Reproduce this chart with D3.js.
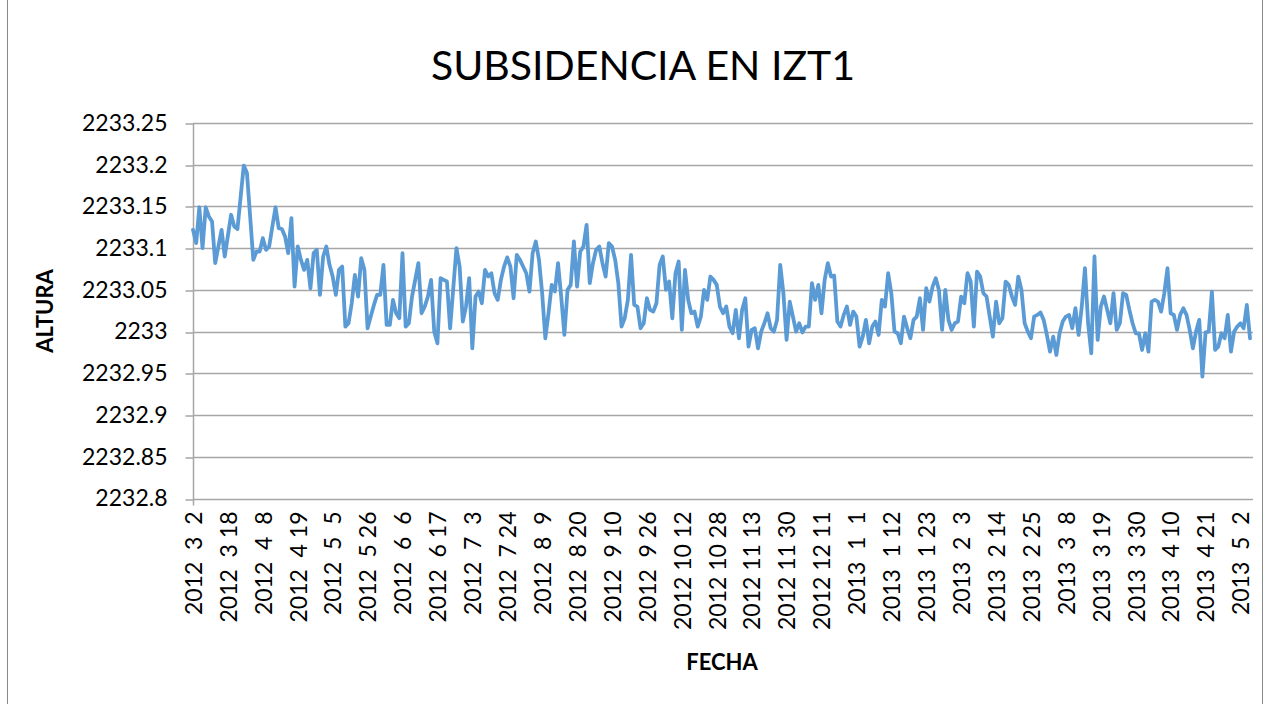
<!DOCTYPE html>
<html>
<head>
<meta charset="utf-8">
<script src="https://cdn.jsdelivr.net/npm/d3@7"></script>
<style>
  html, body { margin: 0; padding: 0; background: #fff; }
  svg text { font-family: Lato, "Open Sans", sans-serif; fill: #000; }
</style>
</head>
<body>
<svg id="chart" width="1269" height="704"></svg>
<script>
// Station IZT1 height series (m), one value per observation day
const alturas = [
  2233.122, 2233.106, 2233.149, 2233.100, 2233.149, 2233.138, 2233.132, 2233.082, 2233.102, 2233.122,
  2233.090, 2233.115, 2233.140, 2233.126, 2233.123, 2233.161, 2233.199, 2233.190, 2233.138, 2233.086,
  2233.096, 2233.096, 2233.112, 2233.098, 2233.102, 2233.126, 2233.149, 2233.124, 2233.123, 2233.114,
  2233.094, 2233.136, 2233.054, 2233.102, 2233.086, 2233.074, 2233.086, 2233.052, 2233.094, 2233.098,
  2233.044, 2233.090, 2233.102, 2233.080, 2233.066, 2233.044, 2233.074, 2233.078, 2233.006, 2233.010,
  2233.034, 2233.068, 2233.042, 2233.088, 2233.074, 2233.004, 2233.018, 2233.032, 2233.044, 2233.044,
  2233.080, 2233.008, 2233.008, 2233.038, 2233.022, 2233.016, 2233.094, 2233.006, 2233.010, 2233.042,
  2233.062, 2233.082, 2233.022, 2233.030, 2233.042, 2233.062, 2233.000, 2232.986, 2233.064, 2233.062,
  2233.060, 2233.004, 2233.052, 2233.100, 2233.078, 2233.012, 2233.030, 2233.064, 2232.980, 2233.042,
  2233.048, 2233.034, 2233.074, 2233.066, 2233.070, 2233.046, 2233.038, 2233.062, 2233.078, 2233.089,
  2233.078, 2233.040, 2233.092, 2233.086, 2233.078, 2233.070, 2233.048, 2233.094, 2233.108, 2233.086,
  2233.046, 2232.992, 2233.022, 2233.056, 2233.048, 2233.082, 2233.042, 2232.996, 2233.050, 2233.056,
  2233.108, 2233.054, 2233.096, 2233.102, 2233.128, 2233.058, 2233.082, 2233.098, 2233.102, 2233.082,
  2233.066, 2233.106, 2233.102, 2233.086, 2233.058, 2233.006, 2233.016, 2233.038, 2233.092, 2233.032,
  2233.030, 2233.004, 2233.010, 2233.040, 2233.026, 2233.024, 2233.034, 2233.080, 2233.090, 2233.050,
  2233.060, 2233.016, 2233.070, 2233.084, 2233.002, 2233.074, 2233.038, 2233.022, 2233.024, 2233.006,
  2233.018, 2233.050, 2233.038, 2233.066, 2233.062, 2233.056, 2233.030, 2233.022, 2233.030, 2233.006,
  2232.998, 2233.026, 2232.992, 2233.026, 2233.040, 2232.982, 2233.002, 2233.004, 2232.980, 2233.000,
  2233.010, 2233.022, 2233.004, 2233.000, 2233.014, 2233.080, 2233.046, 2232.990, 2233.036, 2233.018,
  2233.000, 2233.010, 2232.999, 2233.006, 2233.006, 2233.058, 2233.038, 2233.056, 2233.022, 2233.062,
  2233.082, 2233.066, 2233.067, 2233.012, 2233.006, 2233.020, 2233.030, 2233.008, 2233.024, 2233.018,
  2232.982, 2232.994, 2233.014, 2232.986, 2233.006, 2233.012, 2232.996, 2233.038, 2233.030, 2233.070,
  2233.046, 2233.000, 2232.998, 2232.986, 2233.018, 2233.004, 2232.992, 2233.014, 2233.018, 2233.040,
  2233.002, 2233.052, 2233.036, 2233.054, 2233.064, 2233.050, 2233.002, 2233.050, 2233.014, 2233.002,
  2233.010, 2233.012, 2233.042, 2233.034, 2233.070, 2233.060, 2233.006, 2233.072, 2233.066, 2233.046,
  2233.042, 2233.018, 2232.994, 2233.036, 2233.010, 2233.016, 2233.060, 2233.056, 2233.042, 2233.032,
  2233.066, 2233.050, 2233.010, 2233.000, 2232.992, 2233.018, 2233.020, 2233.023, 2233.014, 2232.996,
  2232.976, 2232.994, 2232.972, 2232.998, 2233.012, 2233.018, 2233.020, 2233.004, 2233.028, 2232.996,
  2233.030, 2233.076, 2233.010, 2232.974, 2233.090, 2232.990, 2233.030, 2233.042, 2233.026, 2233.010,
  2233.046, 2233.002, 2233.010, 2233.046, 2233.044, 2233.026, 2233.010, 2232.998, 2232.998, 2232.978,
  2232.998, 2232.976, 2233.036, 2233.038, 2233.036, 2233.024, 2233.046, 2233.076, 2233.022, 2233.020,
  2233.002, 2233.020, 2233.028, 2233.020, 2233.002, 2232.980, 2233.000, 2233.014, 2232.946, 2232.999,
  2233.000, 2233.048, 2232.978, 2232.982, 2232.998, 2232.992, 2233.020, 2232.976, 2233.000, 2233.006,
  2233.010, 2233.004, 2233.032, 2232.992
];

// Category labels shown on the date axis (every 11th observation)
const fechas = [
  "2012  3  2", "2012  3 18", "2012  4  8", "2012  4 19", "2012  5  5", "2012  5 26",
  "2012  6  6", "2012  6 17", "2012  7  3", "2012  7 24", "2012  8  9", "2012  8 20",
  "2012  9 10", "2012  9 26", "2012 10 12", "2012 10 28", "2012 11 13", "2012 11 30",
  "2012 12 11", "2013  1  1", "2013  1 12", "2013  1 23", "2013  2  3", "2013  2 14",
  "2013  2 25", "2013  3  8", "2013  3 19", "2013  3 30", "2013  4 10", "2013  4 21",
  "2013  5  2"
];
const pasoEtiqueta = 11;

// Value axis ticks
const yTicks = [2232.8, 2232.85, 2232.9, 2232.95, 2233, 2233.05, 2233.1, 2233.15, 2233.2, 2233.25];

const titulo = "SUBSIDENCIA EN IZT1";
const tituloY = "ALTURA";
const tituloX = "FECHA";

const W = 1269, H = 704;
const plot = { left: 193, right: 1253, top: 123, bottom: 498.5 };

const svg = d3.select("#chart");

// chart area frame
svg.append("rect")
  .attr("x", 7.5).attr("y", -2).attr("width", 1255).attr("height", H + 4)
  .attr("fill", "#fff").attr("stroke", "#898989").attr("stroke-width", 1);

const x = d3.scalePoint()
  .domain(d3.range(alturas.length))
  .range([plot.left, 1250]);

const y = d3.scaleLinear()
  .domain([yTicks[0], yTicks[yTicks.length - 1]])
  .range([plot.bottom, plot.top]);

const fmt = v => String(+v.toFixed(2));

// horizontal gridlines
svg.append("g")
  .selectAll("line")
  .data(yTicks)
  .join("line")
  .attr("x1", plot.left).attr("x2", plot.right)
  .attr("y1", d => Math.round(y(d)) + 0.5).attr("y2", d => Math.round(y(d)) + 0.5)
  .attr("stroke", "#a6a6a6").attr("stroke-width", 1.5);

// value axis
const yAxis = svg.append("g")
  .attr("transform", `translate(${plot.left + 0.5},0)`)
  .call(d3.axisLeft(y).tickValues(yTicks).tickFormat(fmt).tickSize(8).tickPadding(18));
yAxis.select(".domain").attr("stroke", "#a6a6a6").attr("stroke-width", 1.5)
  .attr("d", `M0,${plot.top}V${plot.bottom + 7}`);
yAxis.selectAll(".tick line").attr("stroke", "#a6a6a6").attr("stroke-width", 1.5)
  .attr("transform", d => `translate(0,${Math.round(y(d)) + 0.5 - y(d)})`);
yAxis.selectAll(".tick text").attr("font-size", 23).attr("font-family", "Lato").attr("fill", "#000");

// category axis
const xTickIdx = fechas.map((f, i) => i * pasoEtiqueta);
const xAxis = svg.append("g")
  .attr("transform", `translate(0,${plot.bottom})`)
  .call(d3.axisBottom(x).tickValues(xTickIdx).tickFormat(i => fechas[i / pasoEtiqueta]).tickSize(0));
xAxis.select(".domain").remove();
xAxis.selectAll(".tick text")
  .attr("font-size", 23).attr("font-family", "Lato").attr("fill", "#000")
  .style("white-space", "pre")
  .attr("transform", "rotate(-90)")
  .attr("text-anchor", "end")
  .attr("x", -13).attr("y", 0).attr("dy", "0.36em");

// series line
svg.append("path")
  .datum(alturas)
  .attr("fill", "none")
  .attr("stroke", "#5b9bd5")
  .attr("stroke-width", 3.8)
  .attr("stroke-linejoin", "round")
  .attr("stroke-linecap", "round")
  .attr("d", d3.line().x((d, i) => x(i)).y(d => y(d)));

// titles
svg.append("text")
  .attr("x", 643).attr("y", 80)
  .attr("text-anchor", "middle")
  .attr("font-size", 41)
  .text(titulo);

svg.append("text")
  .attr("transform", `translate(53,311) rotate(-90)`)
  .attr("text-anchor", "middle")
  .attr("font-size", 22).attr("font-weight", "bold")
  .text(tituloY);

svg.append("text")
  .attr("x", 722).attr("y", 670)
  .attr("text-anchor", "middle")
  .attr("font-size", 22).attr("font-weight", "bold")
  .text(tituloX);
</script>
</body>
</html>
